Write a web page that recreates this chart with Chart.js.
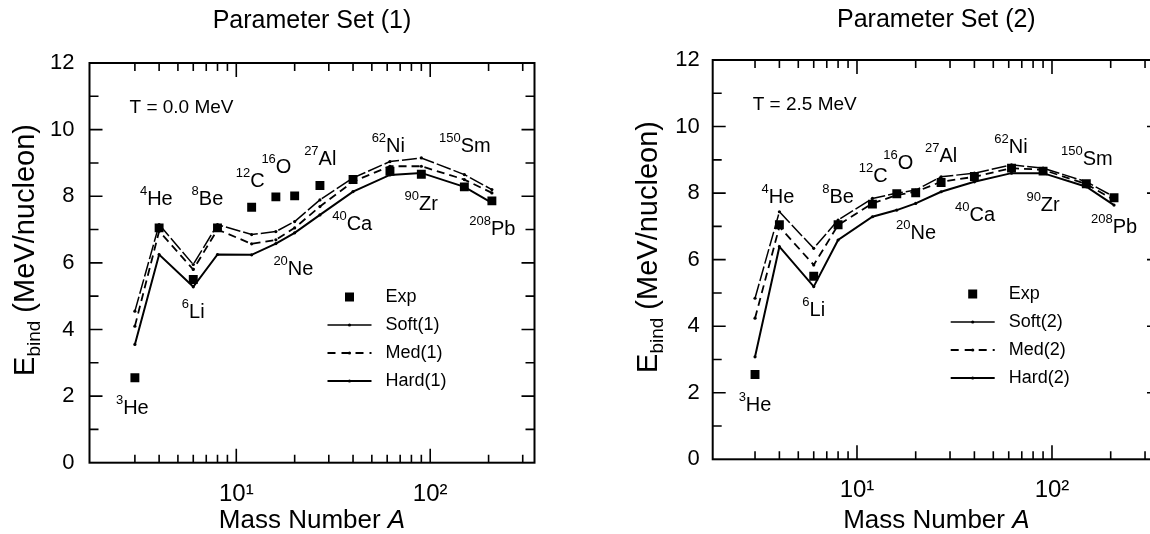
<!DOCTYPE html>
<html>
<head>
<meta charset="utf-8">
<title>Binding energy per nucleon</title>
<script src="https://cdn.jsdelivr.net/npm/chart.js@4.4.1/dist/chart.umd.min.js"></script>
<style>
  html, body { margin: 0; padding: 0; background: #fff; overflow: hidden; }
  #wrap { position: relative; width: 1150px; height: 534px; overflow: hidden; }
  .panel { position: absolute; top: 0; height: 534px; }
  #p1 { left: 0; width: 580px; }
  #p2 { left: 620px; width: 560px; }
</style>
</head>
<body>
<div id="wrap">
  <div class="panel" id="p1"><canvas id="chart1"></canvas></div>
  <div class="panel" id="p2"><canvas id="chart2"></canvas></div>
</div>
<script>
// Nuclei on the x axis
const nuclei = ['He', 'He', 'Li', 'Be', 'C', 'O', 'Ne', 'Al', 'Ca', 'Ni', 'Zr', 'Sm', 'Pb'];
const massA = [3, 4, 6, 8, 12, 16, 20, 27, 40, 62, 90, 150, 208];

// Experimental E_bind (MeV/nucleon), same squares in both panels
const expE = [2.55, 7.05, 5.5, 7.05, 7.67, 7.98, 8.01, 8.32, 8.5, 8.75, 8.66, 8.28, 7.86];

// Parameter set (1), T = 0.0 MeV
const soft1 = [4.55, 7.15, 5.95, 7.15, 6.85, 6.94, 7.24, 7.89, 8.55, 9.04, 9.15, 8.65, 8.2];
const med1  = [4.1, 6.95, 5.8, 7.0, 6.57, 6.69, 7.05, 7.69, 8.44, 8.9, 8.9, 8.5, 8.1];
const hard1 = [3.55, 6.25, 5.28, 6.25, 6.24, 6.58, 6.9, 7.44, 8.14, 8.64, 8.7, 8.28, 7.8];

// Parameter set (2), T = 2.5 MeV
const soft2 = [4.84, 7.44, 6.34, 7.19, 7.84, 8.0, 8.09, 8.49, 8.6, 8.85, 8.75, 8.34, 7.89];
const med2  = [4.24, 6.99, 5.84, 7.04, 7.69, 7.94, 8.04, 8.34, 8.49, 8.75, 8.7, 8.27, 7.79];
const hard2 = [3.08, 6.39, 5.19, 6.59, 7.29, 7.49, 7.69, 8.04, 8.34, 8.6, 8.6, 8.19, 7.64];

// Where the nucleus names sit (A, E) in each panel
const labelA1 = [2.91, 3.87, 6.0, 7.1, 11.8, 16.1, 19.7, 27.1, 39.6, 60.8, 89.9, 151, 209];
const labelE1 = [1.64, 7.89, 4.5, 7.89, 8.43, 8.86, 5.79, 9.1, 7.14, 9.49, 7.74, 9.49, 6.99];
const labelA2 = [3.0, 3.93, 6.0, 8.0, 12.1, 16.3, 20.1, 27, 40.3, 61.6, 90, 151, 208];
const labelE2 = [1.63, 7.88, 4.48, 7.88, 8.49, 8.9, 6.8, 9.09, 7.34, 9.38, 7.64, 9.0, 6.97];

// Axis labels
const xTickValues = [10, 100];
const xTickLabels = ['10\u00B9', '10\u00B2'];

const FONT = "'Liberation Sans', Arial, Helvetica, sans-serif";

function points(values) {
    return massA.map((a, i) => ({ x: a, y: values[i] }));
}

function isDecade(v) {
    const l = Math.log10(v);
    return Math.abs(l - Math.round(l)) < 1e-9;
}

function isWholeStep(v) {
    const p = Math.pow(10, Math.floor(Math.log10(v) + 1e-9));
    const s = v / p;
    return Math.abs(s - Math.round(s)) < 1e-6;
}

// Box round the plot with inward ticks on all four sides
const framePlugin = {
    id: 'frame',
    afterDraw(chart) {
        const { ctx, chartArea: a, scales: { x, y } } = chart;
        ctx.save();
        ctx.strokeStyle = '#000';
        ctx.lineWidth = 2;
        ctx.strokeRect(a.left, a.top, a.right - a.left, a.bottom - a.top);
        ctx.lineWidth = 1.6;
        ctx.beginPath();
        x.ticks.forEach(t => {
            if (!isWholeStep(t.value)) return;
            const px = x.getPixelForValue(t.value);
            if (px <= a.left + 2 || px >= a.right - 1) return;
            const len = isDecade(t.value) ? 14 : 8;
            ctx.moveTo(px, a.bottom); ctx.lineTo(px, a.bottom - len);
            ctx.moveTo(px, a.top); ctx.lineTo(px, a.top + len);
        });
        y.ticks.forEach(t => {
            const py = y.getPixelForValue(t.value);
            if (py <= a.top + 1 || py >= a.bottom - 1) return;
            const len = t.value % 2 === 0 ? 13 : 9;
            ctx.moveTo(a.left, py); ctx.lineTo(a.left + len, py);
            ctx.moveTo(a.right, py); ctx.lineTo(a.right - len, py);
        });
        ctx.stroke();
        ctx.restore();
    }
};

// Texts inside and around the plot: T note, nucleus names, legend, axis titles
const notesPlugin = {
    id: 'notes',
    afterDatasetsDraw(chart, args, opts) {
        const { ctx, chartArea: a, scales: { x, y } } = chart;
        ctx.save();
        ctx.fillStyle = '#000';
        ctx.strokeStyle = '#000';
        ctx.textBaseline = 'middle';
        ctx.textAlign = 'left';

        ctx.font = `19px ${FONT}`;
        ctx.fillText(opts.temp, a.left + 40, a.top + 45);

        // nucleus names with mass number as superscript
        massA.forEach((m, i) => {
            const px = x.getPixelForValue(opts.labelA[i]);
            const py = y.getPixelForValue(opts.labelE[i]);
            ctx.font = `13px ${FONT}`;
            const sw = ctx.measureText(String(m)).width;
            ctx.font = `20px ${FONT}`;
            const mw = ctx.measureText(nuclei[i]).width;
            const x0 = px - (sw + mw) / 2;
            ctx.fillText(nuclei[i], x0 + sw, py);
            ctx.font = `13px ${FONT}`;
            ctx.fillText(String(m), x0, py - 8);
        });

        // legend
        const rows = [234, 262, 290, 318];
        ctx.font = `18px ${FONT}`;
        chart.data.datasets.forEach((ds, i) => {
            const ry = a.top + rows[i];
            if (ds.showLine === false) {
                ctx.fillRect(a.left + 260 - 4.5, ry - 4.5, 9, 9);
            } else {
                ctx.save();
                ctx.lineWidth = ds.borderWidth;
                ctx.setLineDash(ds.legendDash);
                ctx.beginPath();
                ctx.moveTo(a.left + 238, ry);
                ctx.lineTo(a.left + 282, ry);
                ctx.stroke();
                ctx.beginPath();
                ctx.arc(a.left + 260, ry, 1.6, 0, Math.PI * 2);
                ctx.fill();
                ctx.restore();
            }
            ctx.fillText(ds.label, a.left + 296, ry);
        });

        // y title: E_bind (MeV/nucleon)
        ctx.save();
        ctx.translate(a.left - 56, a.top + 187);
        ctx.rotate(-Math.PI / 2);
        ctx.textBaseline = 'alphabetic';
        const big = `29px ${FONT}`, small = `19px ${FONT}`;
        ctx.font = big;
        const w1 = ctx.measureText('E').width;
        const w3 = ctx.measureText(' (MeV/nucleon)').width;
        ctx.font = small;
        const w2 = ctx.measureText('bind').width;
        let tx = -(w1 + w2 + w3) / 2;
        ctx.font = big;
        ctx.fillText('E', tx, 0);
        ctx.font = small;
        ctx.fillText('bind', tx + w1, 6);
        ctx.font = big;
        ctx.fillText(' (MeV/nucleon)', tx + w1 + w2, 0);
        ctx.restore();

        // x title: Mass Number A
        ctx.save();
        ctx.textBaseline = 'alphabetic';
        const n1 = `26px ${FONT}`, n2 = `italic 26px ${FONT}`;
        ctx.font = n1;
        const m1 = ctx.measureText('Mass Number ').width;
        ctx.font = n2;
        const m2 = ctx.measureText('A').width;
        const cx = (a.left + a.right) / 2 - (m1 + m2) / 2;
        ctx.font = n1;
        ctx.fillText('Mass Number ', cx, chart.height - 6);
        ctx.font = n2;
        ctx.fillText('A', cx + m1, chart.height - 6);
        ctx.restore();

        ctx.restore();
    }
};

function makeChart(id, cfg) {
    const lineStyle = (label, values, width, dash, legendDash) => ({
        label: label,
        data: points(values),
        borderColor: '#000',
        backgroundColor: '#000',
        borderWidth: width,
        borderDash: dash,
        legendDash: legendDash,
        pointRadius: 1.6,
        pointBorderWidth: 0,
        pointBackgroundColor: '#000',
        tension: 0,
        fill: false
    });

    return new Chart(document.getElementById(id), {
        type: 'line',
        data: {
            datasets: [
                {
                    label: 'Exp',
                    data: points(expE),
                    showLine: false,
                    pointStyle: 'rect',
                    pointRadius: 6.3,
                    pointBorderWidth: 0,
                    backgroundColor: '#000',
                    borderColor: '#000'
                },
                lineStyle(cfg.names[0], cfg.soft, 1.5, [15, 3], []),
                lineStyle(cfg.names[1], cfg.med, 1.8, [8, 5], [8, 6]),
                lineStyle(cfg.names[2], cfg.hard, 2, [], [])
            ]
        },
        options: {
            responsive: true,
            maintainAspectRatio: false,
            animation: false,
            events: [],
            layout: { padding: { left: 0, right: cfg.padRight, top: 0, bottom: 0 } },
            scales: {
                x: {
                    type: 'logarithmic',
                    min: cfg.xMin,
                    max: cfg.xMax,
                    grid: { display: false, drawTicks: false },
                    border: { display: false },
                    afterFit: s => { s.height = cfg.xHeight; },
                    ticks: {
                        autoSkip: false,
                        maxRotation: 0,
                        padding: 17,
                        color: '#000',
                        font: { family: FONT, size: 24 },
                        callback: v => {
                            const i = xTickValues.findIndex(t => Math.abs(t - v) < 1e-6);
                            return i >= 0 ? xTickLabels[i] : '';
                        }
                    }
                },
                y: {
                    min: 0,
                    max: 12,
                    grid: { display: false, drawTicks: false },
                    border: { display: false },
                    afterFit: s => { s.width = cfg.yWidth; },
                    ticks: {
                        stepSize: 1,
                        autoSkip: false,
                        padding: cfg.yPad,
                        color: '#000',
                        font: { family: FONT, size: 22 },
                        callback: v => (v % 2 === 0 ? String(v) : '')
                    }
                }
            },
            plugins: {
                legend: { display: false },
                tooltip: { enabled: false },
                title: {
                    display: true,
                    text: cfg.title,
                    fullSize: false,
                    color: '#000',
                    font: { family: FONT, size: 25, weight: 'normal' },
                    padding: cfg.titlePad
                },
                notes: { temp: cfg.temp, labelA: cfg.labelA, labelE: cfg.labelE }
            }
        },
        plugins: [framePlugin, notesPlugin]
    });
}

makeChart('chart1', {
    title: 'Parameter Set (1)',
    temp: 'T = 0.0 MeV',
    names: ['Soft(1)', 'Med(1)', 'Hard(1)'],
    soft: soft1, med: med1, hard: hard1,
    labelA: labelA1, labelE: labelE1,
    xMin: 1.75, xMax: 345,
    yWidth: 89.5, xHeight: 71.3, padRight: 45.5, yPad: 15,
    titlePad: { top: 6.5, bottom: 26.5 }
});

makeChart('chart2', {
    title: 'Parameter Set (2)',
    temp: 'T = 2.5 MeV',
    names: ['Soft(2)', 'Med(2)', 'Hard(2)'],
    soft: soft2, med: med2, hard: hard2,
    labelA: labelA2, labelE: labelE2,
    xMin: 1.82, xMax: 358,
    yWidth: 92.7, xHeight: 74.7, padRight: 20, yPad: 13,
    titlePad: { top: 5.5, bottom: 24.5 }
});
</script>
</body>
</html>
